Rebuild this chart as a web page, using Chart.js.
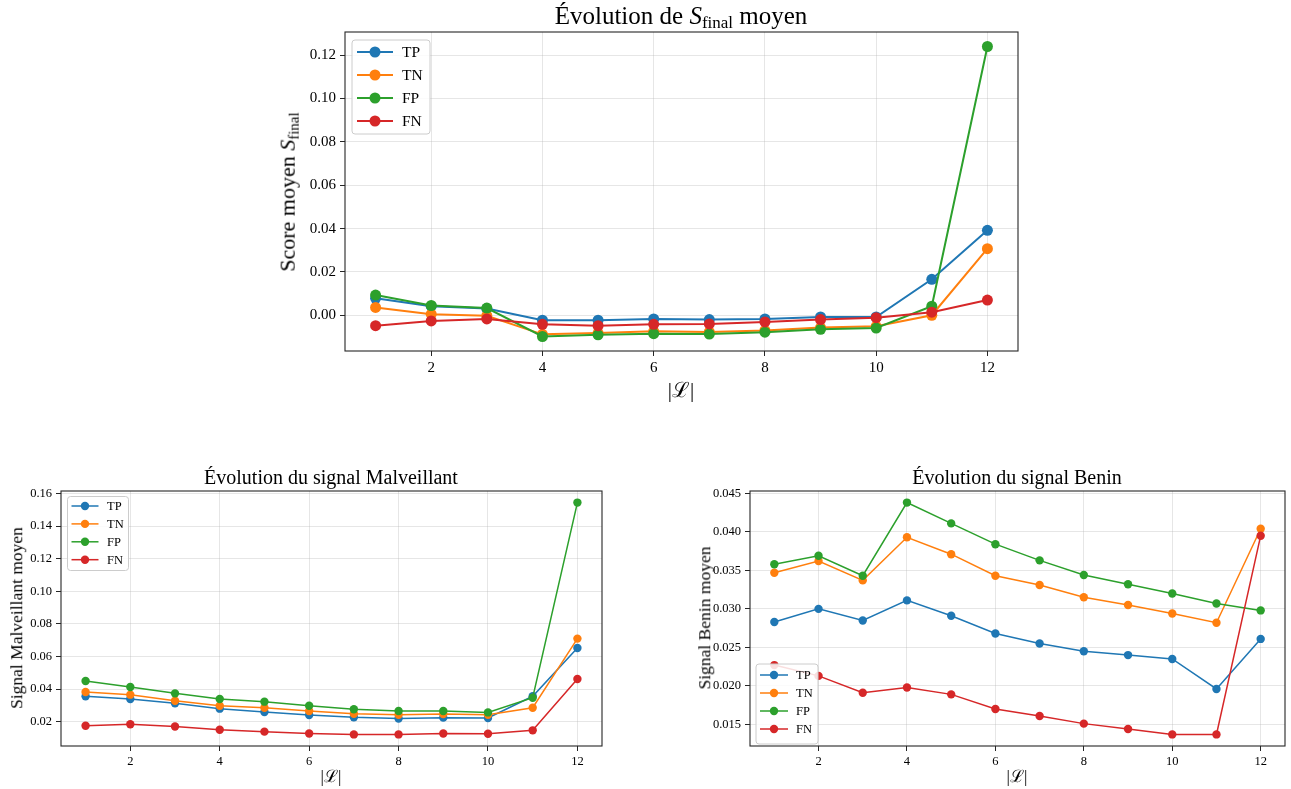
<!DOCTYPE html>
<html>
<head>
<meta charset="utf-8">
<script src="https://cdn.jsdelivr.net/npm/chart.js@4.4.1/dist/chart.umd.min.js"></script>
<style>
  body { margin: 0; background: #fff; width: 1291px; height: 789px; position: relative; overflow: hidden;
         font-family: "Liberation Serif", "DejaVu Serif", serif; color: #000; }
  canvas { position: absolute; left: 0; top: 0; }
  .lbl { position: absolute; white-space: nowrap; line-height: 1; }
  .rot { transform: translate(-50%, -50%) rotate(-90deg); }
  .ctr { transform: translate(-50%, -50%); }
  sub { font-size: 68%; vertical-align: -0.25em; }
</style>
</head>
<body>
<canvas id="score" width="1291" height="789"></canvas>
<canvas id="malv" width="1291" height="789"></canvas>
<canvas id="benin" width="1291" height="789"></canvas>

<div class="lbl ctr" style="left:681px;top:17px;font-size:25px;">Évolution de <i>S</i><sub>final</sub> moyen</div>
<div class="lbl rot" style="left:289px;top:192px;font-size:22px;">Score moyen <i>S</i><sub>final</sub></div>
<div class="lbl ctr" style="left:681px;top:390px;font-size:21px;">|ℒ|</div>

<div class="lbl ctr" style="left:331px;top:477px;font-size:20px;">Évolution du signal Malveillant</div>
<div class="lbl rot" style="left:17px;top:618px;font-size:17.5px;">Signal Malveillant moyen</div>
<div class="lbl ctr" style="left:331px;top:776px;font-size:17px;">|ℒ|</div>

<div class="lbl ctr" style="left:1017px;top:477px;font-size:20px;">Évolution du signal Benin</div>
<div class="lbl rot" style="left:705px;top:618px;font-size:17.5px;">Signal Benin moyen</div>
<div class="lbl ctr" style="left:1017px;top:776px;font-size:17px;">|ℒ|</div>

<script>
// data
const layers = [1, 2, 3, 4, 5, 6, 7, 8, 9, 10, 11, 12];
const xTicks = [2, 4, 6, 8, 10, 12];
const seriesNames = ["TP", "TN", "FP", "FN"];
const seriesColors = ["#1f77b4", "#ff7f0e", "#2ca02c", "#d62728"];

const scoreTP = [0.0078, 0.0042, 0.0031, -0.0023, -0.0023, -0.0017, -0.0020, -0.0017, -0.0008, -0.0008, 0.0166, 0.0392];
const scoreTN = [0.0036, 0.0005, -0.0002, -0.0088, -0.0082, -0.0074, -0.0077, -0.0070, -0.0057, -0.0051, 0.0000, 0.0307];
const scoreFP = [0.0093, 0.0045, 0.0033, -0.0098, -0.0090, -0.0085, -0.0087, -0.0078, -0.0065, -0.0059, 0.0042, 0.1240];
const scoreFN = [-0.0048, -0.0026, -0.0017, -0.0042, -0.0048, -0.0042, -0.0040, -0.0031, -0.0020, -0.0011, 0.0014, 0.0070];
const scoreTicks = [0.00, 0.02, 0.04, 0.06, 0.08, 0.10, 0.12];

const malvTP = [0.0356, 0.0339, 0.0313, 0.0280, 0.0259, 0.0241, 0.0227, 0.0220, 0.0225, 0.0223, 0.0356, 0.0652];
const malvTN = [0.0382, 0.0366, 0.0329, 0.0298, 0.0286, 0.0266, 0.0249, 0.0243, 0.0247, 0.0243, 0.0286, 0.0710];
const malvFP = [0.0450, 0.0413, 0.0374, 0.0339, 0.0323, 0.0298, 0.0276, 0.0266, 0.0266, 0.0257, 0.0347, 0.1545];
const malvFN = [0.0175, 0.0184, 0.0171, 0.0151, 0.0139, 0.0128, 0.0122, 0.0122, 0.0128, 0.0126, 0.0147, 0.0462];
const malvTicks = [0.02, 0.04, 0.06, 0.08, 0.10, 0.12, 0.14, 0.16];

const beninTP = [0.0283, 0.0300, 0.0285, 0.0311, 0.0291, 0.0268, 0.0255, 0.0245, 0.0240, 0.0235, 0.0196, 0.0261];
const beninTN = [0.0347, 0.0362, 0.0337, 0.0393, 0.0371, 0.0343, 0.0331, 0.0315, 0.0305, 0.0294, 0.0282, 0.0404];
const beninFP = [0.0358, 0.0369, 0.0343, 0.0438, 0.0411, 0.0384, 0.0363, 0.0344, 0.0332, 0.0320, 0.0307, 0.0298];
const beninFN = [0.0227, 0.0213, 0.0191, 0.0198, 0.0189, 0.0170, 0.0161, 0.0151, 0.0144, 0.0137, 0.0137, 0.0395];
const beninTicks = [0.015, 0.020, 0.025, 0.030, 0.035, 0.040, 0.045];

// frame around the plot area (matplotlib spines)
const framePlugin = {
  id: "frame",
  afterDraw(chart) {
    const { ctx, chartArea: a } = chart;
    ctx.save();
    ctx.strokeStyle = "#262626";
    ctx.lineWidth = 1.1;
    ctx.strokeRect(a.left, a.top, a.right - a.left, a.bottom - a.top);
    ctx.restore();
  },
};

// legend drawn like matplotlib: line + marker handle
const lineLegend = {
  id: "lineLegend",
  afterDraw(chart, args, o) {
    const ctx = chart.ctx;
    ctx.save();
    ctx.fillStyle = "rgba(255,255,255,0.85)";
    ctx.strokeStyle = "#cccccc";
    ctx.lineWidth = 1;
    ctx.beginPath();
    ctx.roundRect(o.x, o.y, o.w, o.h, 3);
    ctx.fill();
    ctx.stroke();
    ctx.font = o.font + "px 'Liberation Serif', serif";
    ctx.textBaseline = "middle";
    chart.data.datasets.forEach((ds, i) => {
      const y = o.rowTop + i * o.rowGap;
      ctx.strokeStyle = ds.borderColor;
      ctx.lineWidth = ds.borderWidth;
      ctx.beginPath();
      ctx.moveTo(o.hx, y);
      ctx.lineTo(o.hx + o.hLen, y);
      ctx.stroke();
      ctx.fillStyle = ds.borderColor;
      ctx.beginPath();
      ctx.arc(o.hx + o.hLen / 2, y, ds.pointRadius, 0, Math.PI * 2);
      ctx.fill();
      ctx.fillStyle = "#000";
      ctx.fillText(ds.label, o.tx, y + 1);
    });
    ctx.restore();
  },
};

function limits(series) {
  const all = series.flat();
  const lo = Math.min(...all), hi = Math.max(...all);
  const pad = (hi - lo) * 0.05;
  return [lo - pad, hi + pad];
}

function makeChart(id, series, yTicks, decimals, box, style, legend) {
  const [ymin, ymax] = limits(series);
  const datasets = series.map((vals, i) => ({
    label: seriesNames[i],
    data: layers.map((x, j) => ({ x: x, y: vals[j] })),
    borderColor: seriesColors[i],
    backgroundColor: seriesColors[i],
    borderWidth: style.lw,
    pointRadius: style.r,
    pointBorderWidth: 0,
    pointHoverRadius: style.r,
    tension: 0,
    order: 3 - i,
  }));
  const gridStyle = {
    color: "rgba(176,176,176,0.32)",
    lineWidth: 1,
    tickColor: "#262626",
    tickLength: 5,
    tickWidth: 1,
  };
  return new Chart(document.getElementById(id), {
    type: "line",
    data: { datasets },
    options: {
      responsive: false,
      animation: false,
      layout: {
        padding: { left: box.left - style.yw, top: box.top, right: 1291 - box.right, bottom: 789 - box.bottom - style.xh },
      },
      scales: {
        x: {
          type: "linear",
          min: 0.45,
          max: 12.55,
          afterBuildTicks: (s) => { s.ticks = xTicks.map((v) => ({ value: v })); },
          afterFit: (s) => { s.height = style.xh; },
          grid: gridStyle,
          border: { display: false },
          ticks: { color: "#000", padding: 3, maxRotation: 0, font: { family: "Liberation Serif", size: style.fs } },
        },
        y: {
          min: ymin,
          max: ymax,
          afterBuildTicks: (s) => { s.ticks = yTicks.map((v) => ({ value: v })); },
          afterFit: (s) => { s.width = style.yw; },
          grid: gridStyle,
          border: { display: false },
          ticks: {
            color: "#000",
            padding: 4,
            font: { family: "Liberation Serif", size: style.fs },
            callback: (v) => Number(v).toFixed(decimals),
          },
        },
      },
      plugins: {
        legend: { display: false },
        tooltip: { enabled: false },
        lineLegend: legend,
      },
    },
    plugins: [framePlugin, lineLegend],
  });
}

makeChart("score", [scoreTP, scoreTN, scoreFP, scoreFN], scoreTicks, 2,
  { left: 345, top: 32, right: 1018, bottom: 351 },
  { lw: 2, r: 5.5, fs: 15, yw: 60, xh: 30 },
  { x: 352, y: 40, w: 78, h: 94, rowTop: 52, rowGap: 23, hx: 357, hLen: 36, tx: 402, font: 15.5 });

makeChart("malv", [malvTP, malvTN, malvFP, malvFN], malvTicks, 2,
  { left: 61, top: 491, right: 602, bottom: 746 },
  { lw: 1.5, r: 4.2, fs: 12.5, yw: 50, xh: 25 },
  { x: 67.5, y: 496.5, w: 61, h: 74, rowTop: 506, rowGap: 17.9, hx: 71.5, hLen: 27, tx: 107, font: 12.5 });

makeChart("benin", [beninTP, beninTN, beninFP, beninFN], beninTicks, 3,
  { left: 750, top: 491, right: 1285, bottom: 746 },
  { lw: 1.5, r: 4.2, fs: 12.5, yw: 50, xh: 25 },
  { x: 756, y: 664, w: 62, h: 80, rowTop: 675, rowGap: 18, hx: 760, hLen: 28, tx: 796, font: 12.5 });
</script>
</body>
</html>
